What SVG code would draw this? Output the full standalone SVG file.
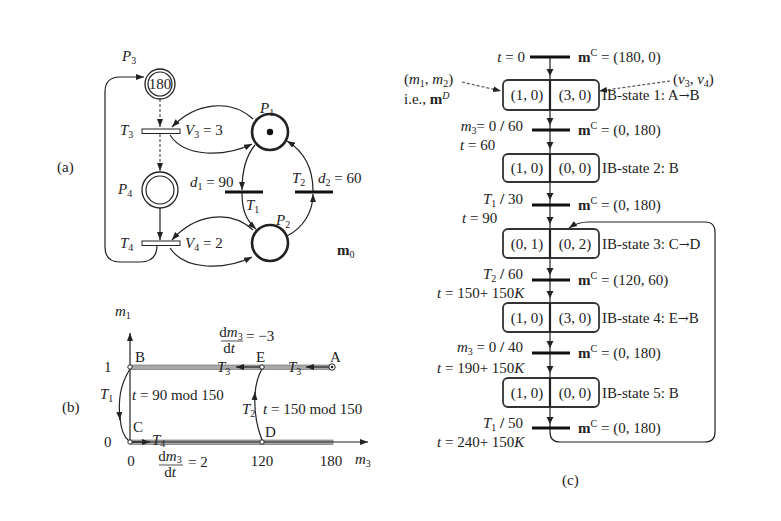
<svg xmlns="http://www.w3.org/2000/svg" width="781" height="521" viewBox="0 0 781 521">
<defs>
<marker id="ah" markerUnits="userSpaceOnUse" markerWidth="9" markerHeight="7" refX="8" refY="3.5" orient="auto"><path d="M0,0.5 L8,3.5 L0,6.5 z" fill="#222"/></marker>
<path id="da" d="M-3.5,-7 L3.5,-7 L0,0 z" fill="#222"/>
</defs>
<style>
.t{font-family:"Liberation Serif","Times New Roman",serif;font-size:15px;fill:#222}
.i{font-style:italic}
.b{font-weight:bold}
.s{font-size:10px}
.ar{font-family:"DejaVu Serif","DejaVu Sans",serif;font-size:13px}
.ln{fill:none;stroke:#222;stroke-width:1.2}
.dash{stroke-dasharray:3 2;stroke:#555}
.pl{fill:#fff;stroke:#222}
.bar{stroke:#111;stroke-width:3}
.box{fill:none;stroke:#333;stroke-width:1.8}
.gb{fill:#a9a9a9;stroke:#666;stroke-width:0.6}
.pt{fill:#fff;stroke:#222;stroke-width:1}
</style>
<rect width="781" height="521" fill="#fff"/>

<!-- ===== (a) Petri net ===== -->
<text x="57" y="172" class="t">(a)</text>
<g id="connectors-a">
<path class="ln dash" d="M160,99 L160,127" marker-end="url(#ah)"/>
<path class="ln dash" d="M160,134 L160,171" marker-end="url(#ah)"/>
<path class="ln" d="M160,208 L160,240" marker-end="url(#ah)"/>
<path class="ln" d="M157,245 Q157,262 140,262 L120,262 Q105,262 105,247 L105,92 Q105,77 120,77 L144,77" marker-end="url(#ah)"/>
<path class="ln" d="M253,119 C230,98 195,103 172,127" marker-end="url(#ah)"/>
<path class="ln" d="M170,135 C185,158 225,157 252,144" marker-end="url(#ah)"/>
<path class="ln" d="M253,230 C230,209 195,214 172,240" marker-end="url(#ah)"/>
<path class="ln" d="M170,248 C185,271 225,270 252,257" marker-end="url(#ah)"/>
<path class="ln" d="M255,145 C245,157 242,172 242,190" marker-end="url(#ah)"/>
<path class="ln" d="M242,193 C242,210 246,220 256,229" marker-end="url(#ah)"/>
<path class="ln" d="M287,236 C303,228 313,212 313,194" marker-end="url(#ah)"/>
<path class="ln" d="M313,191 C313,170 305,152 287,141" marker-end="url(#ah)"/>
</g>
<g id="P3"><circle cx="160" cy="84" r="15" class="pl" stroke-width="1.3"/><circle cx="160" cy="84" r="12" class="pl" stroke-width="1.2"/><text x="160" y="89" class="t" text-anchor="middle" font-size="14">180</text><text x="122" y="61" class="t"><tspan class="i">P</tspan><tspan class="s" dy="3">3</tspan></text></g>
<g id="P4"><circle cx="160" cy="190" r="18" class="pl" stroke-width="1.3"/><circle cx="160" cy="190" r="14" class="pl" stroke-width="1.2"/><text x="118" y="194" class="t"><tspan class="i">P</tspan><tspan class="s" dy="3">4</tspan></text></g>
<g id="T3"><rect x="142" y="129" width="38" height="4.5" class="pl" stroke-width="1"/><text x="120" y="135" class="t"><tspan class="i">T</tspan><tspan class="s" dy="3">3</tspan></text><text x="185" y="135" class="t"><tspan class="i">V</tspan><tspan class="s" dy="3">3</tspan><tspan dy="-3"> = 3</tspan></text></g>
<g id="T4"><rect x="142" y="241" width="38" height="4.5" class="pl" stroke-width="1"/><text x="120" y="248" class="t"><tspan class="i">T</tspan><tspan class="s" dy="3">4</tspan></text><text x="185" y="248" class="t"><tspan class="i">V</tspan><tspan class="s" dy="3">4</tspan><tspan dy="-3"> = 2</tspan></text></g>
<g id="P1"><circle cx="270" cy="132" r="18" class="pl" stroke-width="2.6"/><circle cx="270" cy="132" r="3.2" fill="#111"/><text x="260" y="113" class="t"><tspan class="i">P</tspan><tspan class="s" dy="3">1</tspan></text></g>
<g id="P2"><circle cx="270" cy="243" r="18" class="pl" stroke-width="2.6"/><text x="276" y="225" class="t"><tspan class="i">P</tspan><tspan class="s" dy="3">2</tspan></text></g>
<g id="T1"><line x1="225" y1="192" x2="263" y2="192" class="bar" stroke-width="2.4"/><text x="246" y="210" class="t"><tspan class="i">T</tspan><tspan class="s" dy="3">1</tspan></text><text x="190" y="187" class="t"><tspan class="i">d</tspan><tspan class="s" dy="3">1</tspan><tspan dy="-3"> = 90</tspan></text></g>
<g id="T2"><line x1="295" y1="192" x2="333" y2="192" class="bar" stroke-width="2.4"/><text x="292" y="183" class="t"><tspan class="i">T</tspan><tspan class="s" dy="3">2</tspan></text><text x="318" y="183" class="t"><tspan class="i">d</tspan><tspan class="s" dy="3">2</tspan><tspan dy="-3"> = 60</tspan></text></g>
<text x="337" y="255" class="t"><tspan class="b">m</tspan><tspan class="s" dy="3">0</tspan></text>

<!-- ===== (b) phase diagram ===== -->
<text x="62" y="412" class="t">(b)</text>
<g id="axes-b">
<rect x="131" y="365" width="201" height="4.5" class="gb"/>
<rect x="131" y="440" width="202" height="4.5" class="gb"/>
<path class="ln" d="M130,442 L130,333" stroke-width="1" marker-end="url(#ah)"/>
<path class="ln" d="M130,442 L368,442" stroke-width="1" marker-end="url(#ah)"/>
</g>
<g id="connectors-b">
<path class="ln" d="M262,367 L236,367" marker-end="url(#ah)"/>
<path class="ln" d="M330,367 L306,367" marker-end="url(#ah)"/>
<path class="ln" d="M130,442 L150,442" marker-end="url(#ah)"/>
<path class="ln" d="M130,369 C120,385 118,400 120,420" marker-end="url(#ah)"/>
<path class="ln" d="M120,418 C121,430 124,437 129,441"/>
<path class="ln" d="M262,440 C256,425 254,408 255,392" marker-end="url(#ah)"/>
<path class="ln" d="M255,394 C256,382 259,374 262,369"/>
</g>
<g id="B"><circle cx="130" cy="367" r="2.2" class="pt"/><text x="135" y="362" class="t" font-size="14">B</text></g>
<g id="E"><circle cx="262" cy="367" r="2.2" class="pt"/><text x="256" y="362" class="t" font-size="14">E</text></g>
<g id="A"><circle cx="332" cy="367" r="3.2" class="pt"/><circle cx="332" cy="367" r="1.3" fill="#222"/><text x="330" y="362" class="t" font-size="14">A</text></g>
<g id="C"><circle cx="130" cy="442" r="2.2" class="pt"/><text x="133" y="432" class="t" font-size="14">C</text></g>
<g id="D"><circle cx="262" cy="442" r="2.2" class="pt"/><text x="265" y="437" class="t" font-size="14">D</text></g>
<text x="115" y="316" class="t"><tspan class="i">m</tspan><tspan class="s" dy="3">1</tspan></text>
<text x="104" y="372" class="t">1</text>
<text x="104" y="447" class="t">0</text>
<text x="217" y="372" class="t"><tspan class="i">T</tspan><tspan class="s" dy="3">3</tspan></text>
<text x="288" y="372" class="t"><tspan class="i">T</tspan><tspan class="s" dy="3">3</tspan></text>
<text x="152" y="445" class="t"><tspan class="i">T</tspan><tspan class="s" dy="2">4</tspan></text>
<text x="100" y="399" class="t"><tspan class="i">T</tspan><tspan class="s" dy="3">1</tspan></text>
<text x="132" y="400" class="t"><tspan class="i">t</tspan> = 90 mod 150</text>
<text x="242" y="414" class="t"><tspan class="i">T</tspan><tspan class="s" dy="3">2</tspan></text>
<text x="263" y="414" class="t"><tspan class="i">t</tspan> = 150 mod 150</text>
<text x="231" y="337" class="t" text-anchor="middle">d<tspan class="i">m</tspan><tspan class="s" dy="3">3</tspan></text>
<line x1="221" y1="341" x2="243" y2="341" stroke="#222" stroke-width="0.8"/>
<text x="229" y="353" class="t" text-anchor="middle">d<tspan class="i">t</tspan></text>
<text x="246" y="341" class="t">= −3</text>
<text x="170" y="461" class="t" text-anchor="middle">d<tspan class="i">m</tspan><tspan class="s" dy="2">3</tspan></text>
<line x1="159" y1="465" x2="183" y2="465" stroke="#222" stroke-width="0.8"/>
<text x="170" y="477" class="t" text-anchor="middle">d<tspan class="i">t</tspan></text>
<text x="188" y="467" class="t">= 2</text>
<text x="131" y="466" class="t" text-anchor="middle">0</text>
<text x="262" y="466" class="t" text-anchor="middle">120</text>
<text x="331" y="466" class="t" text-anchor="middle">180</text>
<text x="355" y="464" class="t" font-size="13"><tspan class="i">m</tspan><tspan class="s" dy="3">3</tspan></text>

<!-- ===== (c) IB-state graph ===== -->
<g id="connectors-c">
<path class="ln" stroke-width="1.3" d="M550,57 L550,432 Q550,442 560,442 L705,442 Q715,442 715,432 L715,232 Q715,222 705,222 L588,222 Q578,222 569,228" marker-end="url(#ah)"/>
<path class="ln dash" d="M462,82 L501,91" stroke-dasharray="4 3" marker-end="url(#ah)"/>
<path class="ln dash" d="M670,81 L599,91" stroke-dasharray="4 3" marker-end="url(#ah)"/>
<use href="#da" x="550" y="76"/>
<use href="#da" x="550" y="125"/><use href="#da" x="550" y="149"/>
<use href="#da" x="550" y="200"/><use href="#da" x="550" y="224"/>
<use href="#da" x="550" y="275"/><use href="#da" x="550" y="298"/>
<use href="#da" x="550" y="348"/><use href="#da" x="550" y="373"/>
<use href="#da" x="550" y="424"/>
</g>
<text x="404" y="84" class="t">(<tspan class="i">m</tspan><tspan class="s" dy="3">1</tspan><tspan dy="-3">, </tspan><tspan class="i">m</tspan><tspan class="s" dy="3">2</tspan><tspan dy="-3">)</tspan></text>
<text x="404" y="104" class="t">i.e., <tspan class="b">m</tspan><tspan class="s i" dy="-5">D</tspan></text>
<text x="673" y="84" class="t">(<tspan class="i">v</tspan><tspan class="s" dy="3">3</tspan><tspan dy="-3">, </tspan><tspan class="i">v</tspan><tspan class="s" dy="3">4</tspan><tspan dy="-3">)</tspan></text>

<g id="bar0"><line x1="530" y1="57" x2="570" y2="57" class="bar"/><text x="525" y="62" class="t" text-anchor="end"><tspan class="i">t</tspan> = 0</text><text x="578" y="62" class="t"><tspan class="b">m</tspan><tspan class="s" dy="-6">C</tspan><tspan dy="6"> = (180, 0)</tspan></text></g>
<g id="state1"><rect x="503" y="80" width="96" height="30" rx="5" class="box"/><line x1="550" y1="80" x2="550" y2="110" stroke="#222" stroke-width="2.2"/><text x="527" y="100" class="t" text-anchor="middle">(1, 0)</text><text x="575" y="100" class="t" text-anchor="middle">(3, 0)</text><text x="602" y="100" class="t">IB-state 1: A<tspan class="ar">→</tspan>B</text></g>
<g id="bar1"><line x1="532" y1="130" x2="570" y2="130" class="bar"/><text x="523" y="131" class="t" text-anchor="end"><tspan class="i">m</tspan><tspan class="s" dy="3">3</tspan><tspan dy="-3">= 0 </tspan><tspan class="b">/</tspan> 60</text><text x="460" y="150" class="t"><tspan class="i">t</tspan> = 60</text><text x="578" y="135" class="t"><tspan class="b">m</tspan><tspan class="s" dy="-6">C</tspan><tspan dy="6"> = (0, 180)</tspan></text></g>
<g id="state2"><rect x="503" y="154" width="96" height="28" rx="5" class="box"/><line x1="550" y1="154" x2="550" y2="182" stroke="#222" stroke-width="2.2"/><text x="527" y="173" class="t" text-anchor="middle">(1, 0)</text><text x="575" y="173" class="t" text-anchor="middle">(0, 0)</text><text x="602" y="173" class="t">IB-state 2: B</text></g>
<g id="bar2"><line x1="532" y1="205" x2="570" y2="205" class="bar"/><text x="523" y="204" class="t" text-anchor="end"><tspan class="i">T</tspan><tspan class="s" dy="3">1</tspan><tspan dy="-3"> </tspan><tspan class="b">/</tspan> 30</text><text x="462" y="223" class="t"><tspan class="i">t</tspan> = 90</text><text x="578" y="210" class="t"><tspan class="b">m</tspan><tspan class="s" dy="-6">C</tspan><tspan dy="6"> = (0, 180)</tspan></text></g>
<g id="state3"><rect x="503" y="229" width="96" height="29" rx="5" class="box"/><line x1="550" y1="229" x2="550" y2="258" stroke="#222" stroke-width="2.2"/><text x="527" y="249" class="t" text-anchor="middle">(0, 1)</text><text x="575" y="249" class="t" text-anchor="middle">(0, 2)</text><text x="602" y="249" class="t">IB-state 3: C<tspan class="ar">→</tspan>D</text></g>
<g id="bar3"><line x1="532" y1="280" x2="570" y2="280" class="bar"/><text x="523" y="279" class="t" text-anchor="end"><tspan class="i">T</tspan><tspan class="s" dy="3">2</tspan><tspan dy="-3"> </tspan><tspan class="b">/</tspan> 60</text><text x="437" y="298" class="t"><tspan class="i">t</tspan> = 150+ 150<tspan class="i">K</tspan></text><text x="578" y="285" class="t"><tspan class="b">m</tspan><tspan class="s" dy="-6">C</tspan><tspan dy="6"> = (120, 60)</tspan></text></g>
<g id="state4"><rect x="503" y="303" width="96" height="29" rx="5" class="box"/><line x1="550" y1="303" x2="550" y2="332" stroke="#222" stroke-width="2.2"/><text x="527" y="323" class="t" text-anchor="middle">(1, 0)</text><text x="575" y="323" class="t" text-anchor="middle">(3, 0)</text><text x="602" y="323" class="t">IB-state 4: E<tspan class="ar">→</tspan>B</text></g>
<g id="bar4"><line x1="532" y1="353" x2="570" y2="353" class="bar"/><text x="523" y="352" class="t" text-anchor="end"><tspan class="i">m</tspan><tspan class="s" dy="3">3</tspan><tspan dy="-3"> = 0 </tspan><tspan class="b">/</tspan> 40</text><text x="437" y="373" class="t"><tspan class="i">t</tspan> = 190+ 150<tspan class="i">K</tspan></text><text x="578" y="358" class="t"><tspan class="b">m</tspan><tspan class="s" dy="-6">C</tspan><tspan dy="6"> = (0, 180)</tspan></text></g>
<g id="state5"><rect x="503" y="378" width="96" height="29" rx="5" class="box"/><line x1="550" y1="378" x2="550" y2="407" stroke="#222" stroke-width="2.2"/><text x="527" y="398" class="t" text-anchor="middle">(1, 0)</text><text x="575" y="398" class="t" text-anchor="middle">(0, 0)</text><text x="602" y="398" class="t">IB-state 5: B</text></g>
<g id="bar5"><line x1="532" y1="428" x2="570" y2="428" class="bar"/><text x="523" y="428" class="t" text-anchor="end"><tspan class="i">T</tspan><tspan class="s" dy="3">1</tspan><tspan dy="-3"> </tspan><tspan class="b">/</tspan> 50</text><text x="437" y="447" class="t"><tspan class="i">t</tspan> = 240+ 150<tspan class="i">K</tspan></text><text x="578" y="433" class="t"><tspan class="b">m</tspan><tspan class="s" dy="-6">C</tspan><tspan dy="6"> = (0, 180)</tspan></text></g>
<text x="562" y="485" class="t">(c)</text>
</svg>
